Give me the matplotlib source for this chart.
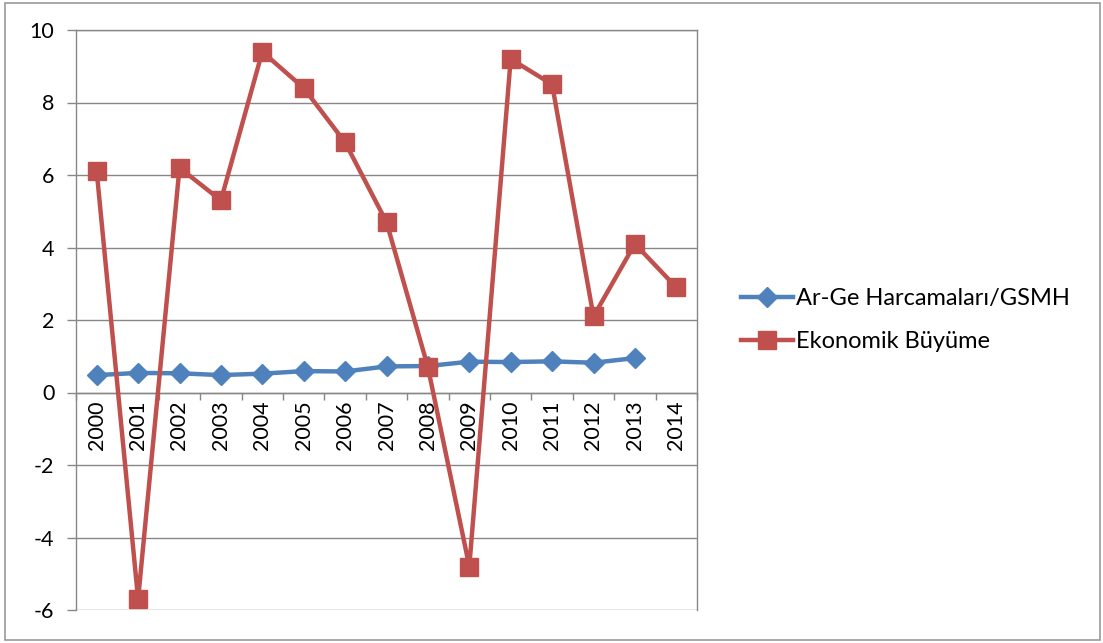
import matplotlib
matplotlib.use("Agg")
import matplotlib.pyplot as plt
from matplotlib.patches import Rectangle

years = ["2000", "2001", "2002", "2003", "2004", "2005", "2006", "2007",
         "2008", "2009", "2010", "2011", "2012", "2013", "2014"]
arge = [0.48, 0.54, 0.53, 0.48, 0.52, 0.59, 0.58, 0.72, 0.73, 0.85,
        0.84, 0.86, 0.82, 0.95]
buyume = [6.1, -5.7, 6.2, 5.3, 9.4, 8.4, 6.9, 4.7, 0.7, -4.8,
          9.2, 8.5, 2.1, 4.1, 2.9]
yticks = [-6, -4, -2, 0, 2, 4, 6, 8, 10]
series_names = ["Ar-Ge Harcamaları/GSMH", "Ekonomik Büyüme"]

plt.rcParams['font.family'] = ['Lato', 'DejaVu Sans']

fig = plt.figure(figsize=(11.03, 6.43), dpi=100)
ax = fig.add_axes([76/1103, 1-610/643, (697-76)/1103, 580/643])

grid_c = "#878787"
blue = "#4F81BD"
red = "#C0504D"

x = list(range(len(years)))
ax.plot(x[:len(arge)], arge, color=blue, lw=3.2, marker='D', ms=10,
        label=series_names[0], zorder=3)
ax.plot(x, buyume, color=red, lw=3.2, marker='s', ms=13,
        label=series_names[1], zorder=4)

ax.set_xlim(-0.5, len(years) - 0.5)
ax.set_ylim(-6, 10)
ax.set_yticks(yticks)
ax.set_yticklabels([str(v) for v in yticks], fontsize=15.5)
ax.yaxis.grid(True, color=grid_c, lw=1)
ax.set_axisbelow(True)
ax.tick_params(axis='y', direction='out', length=6.5, color=grid_c, width=1, pad=9)

ax.spines['bottom'].set_position(('data', 0))
for s in ['bottom', 'left', 'right', 'top']:
    ax.spines[s].set_color(grid_c)
    ax.spines[s].set_linewidth(1)
ax.set_xticks([i - 0.5 for i in range(len(years) + 1)])
ax.set_xticklabels([])
ax.tick_params(axis='x', direction='out', length=5, color=grid_c, width=1)

for i, yr in enumerate(years):
    ax.annotate(yr, (i, 0), xytext=(0, -6), textcoords='offset points',
                rotation=90, ha='center', va='top', fontsize=15.5, zorder=2)

leg = fig.legend(loc='center left', bbox_to_anchor=(720/1103, 1-320/643),
                 frameon=False, fontsize=17, handlelength=2.2,
                 handletextpad=0.1, labelspacing=0.95)

fig.patches.append(Rectangle((5/1103, 3/643), 1095/1103, 637/643,
                             transform=fig.transFigure, fill=False,
                             edgecolor="#9a9a9a", lw=1.2))

fig.savefig("out.png", dpi=100)
